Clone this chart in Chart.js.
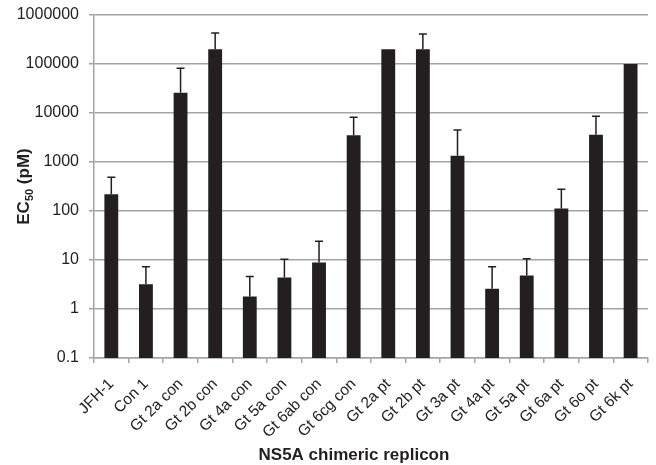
<!DOCTYPE html>
<html>
<head>
<meta charset="utf-8">
<script src="https://cdn.jsdelivr.net/npm/chart.js@4/dist/chart.umd.min.js"></script>
<style>
  body { margin: 0; background: #fff; }
  canvas { display: block; }
</style>
</head>
<body>
<canvas id="ec50Chart" width="656" height="465"></canvas>
<script>
// replicon names
const replicons = ['JFH-1', 'Con 1', 'Gt 2a con', 'Gt 2b con', 'Gt 4a con', 'Gt 5a con',
    'Gt 6ab con', 'Gt 6cg con', 'Gt 2a pt', 'Gt 2b pt', 'Gt 3a pt', 'Gt 4a pt',
    'Gt 5a pt', 'Gt 6a pt', 'Gt 6o pt', 'Gt 6k pt'];
// EC50 values (pM)
const ec50 = [220, 3.2, 26000, 200000, 1.8, 4.4, 8.9, 3500, 200000, 200000, 1340, 2.6, 4.8, 112, 3600, 100000];
// top of the error bar (mean + SD), null = no bar
const errTop = [490, 7.3, 82000, 430000, 4.6, 10.3, 24, 8200, null, 410000, 4500, 7.3, 10.6, 277, 8600, null];
// y tick values
const yTicks = [0.1, 1, 10, 100, 1000, 10000, 100000, 1000000];

const FONT = '"Liberation Sans", Arial, sans-serif';
const GRID = '#a3a3a3';
const INK = '#231f20';

// draws the upper error bars + axis titles
const extras = {
    id: 'extras',
    afterDatasetsDraw(chart) {
        const ctx = chart.ctx;
        const y = chart.scales.y;
        const meta = chart.getDatasetMeta(0);
        ctx.save();
        ctx.strokeStyle = INK;
        ctx.lineWidth = 1.5;
        meta.data.forEach((bar, i) => {
            if (errTop[i] == null) return;
            const top = y.getPixelForValue(errTop[i]);
            ctx.beginPath();
            ctx.moveTo(bar.x, bar.y);
            ctx.lineTo(bar.x, top);
            ctx.moveTo(bar.x - 4, top);
            ctx.lineTo(bar.x + 4, top);
            ctx.stroke();
        });
        ctx.restore();
    },
    afterDraw(chart) {
        const ctx = chart.ctx;
        const area = chart.chartArea;
        ctx.save();
        ctx.fillStyle = INK;
        // x title
        ctx.font = 'bold 17px ' + FONT;
        ctx.textAlign = 'center';
        ctx.textBaseline = 'alphabetic';
        ctx.fillText('NS5A chimeric replicon', area.left + (area.right - area.left) / 2 - 17, 460);
        // y title with subscript
        const big = 'bold 17px ' + FONT;
        const small = 'bold 11px ' + FONT;
        const parts = [['EC', big, 0], ['50', small, 4], [' (pM)', big, 0]];
        let total = 0;
        parts.forEach(p => { ctx.font = p[1]; total += ctx.measureText(p[0]).width; });
        ctx.translate(29, (area.top + area.bottom) / 2);
        ctx.rotate(-Math.PI / 2);
        ctx.textAlign = 'left';
        let x = -total / 2;
        parts.forEach(p => {
            ctx.font = p[1];
            ctx.fillText(p[0], x, p[2]);
            x += ctx.measureText(p[0]).width;
        });
        ctx.restore();
    }
};

const ctx = document.getElementById('ec50Chart').getContext('2d');
const ec50Chart = new Chart(ctx, {
    type: 'bar',
    data: {
        labels: replicons,
        datasets: [{
            data: ec50,
            backgroundColor: INK,
            borderWidth: 0,
            categoryPercentage: 1,
            barPercentage: 0.4
        }]
    },
    options: {
        responsive: false,
        animation: false,
        layout: { padding: { left: 0, right: 8, top: 15, bottom: 0 } },
        plugins: {
            legend: { display: false },
            tooltip: { enabled: false }
        },
        scales: {
            x: {
                grid: { display: true, drawOnChartArea: false, offset: true, color: GRID, lineWidth: 1.5, tickLength: 5 },
                border: { color: GRID, width: 1.5 },
                ticks: {
                    autoSkip: false,
                    minRotation: 45,
                    maxRotation: 45,
                    padding: 12,
                    color: '#222',
                    font: { family: FONT, size: 15.5 }
                },
                afterFit(scale) { scale.height = 107; }
            },
            y: {
                type: 'logarithmic',
                min: 0.1,
                max: 1000000,
                afterBuildTicks(scale) {
                    scale.ticks = yTicks.map(v => ({ value: v }));
                },
                grid: { color: GRID, lineWidth: 1.5, tickLength: 5 },
                border: { color: GRID, width: 1.5 },
                ticks: {
                    padding: 10,
                    color: '#222',
                    font: { family: FONT, size: 16 },
                    callback: v => String(v)
                },
                afterFit(scale) {
                    scale.width = 94;
                    scale.paddingTop = 0;
                    scale.paddingBottom = 0;
                }
            }
        }
    },
    plugins: [extras]
});
</script>
</body>
</html>
